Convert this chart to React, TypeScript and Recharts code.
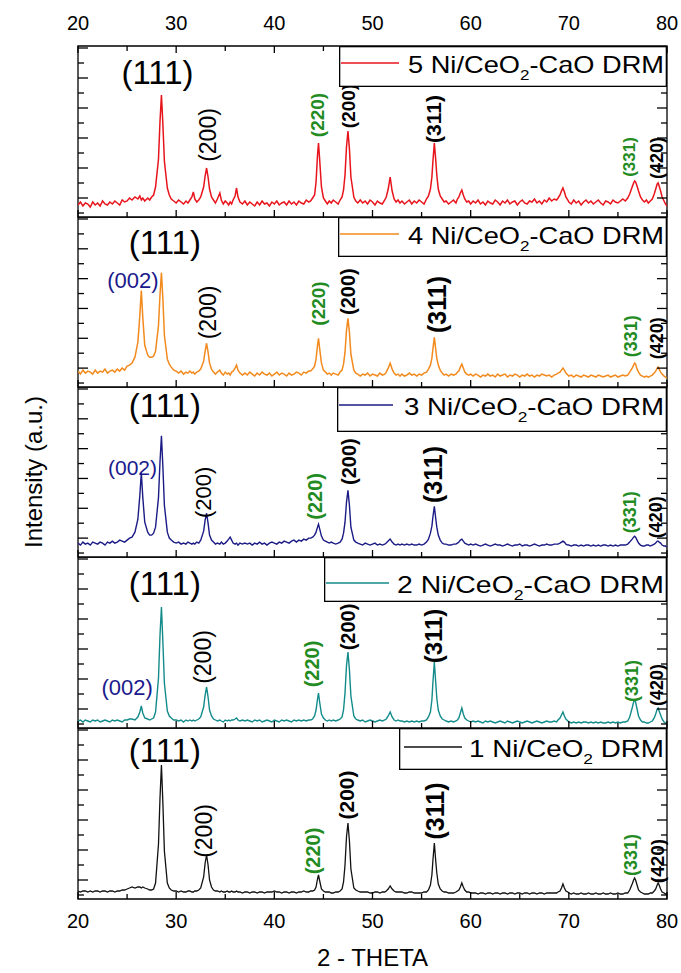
import React from 'react';
import { LineChart, Line, XAxis, YAxis, ReferenceArea, ReferenceDot, Legend } from 'recharts';

// ---------- data: 2-theta grid (degrees) ----------
const TWO_THETA = [
  20.0, 20.25, 20.5, 20.75, 21.0, 21.25, 21.5, 21.75, 22.0, 22.25, 22.5, 22.75, 23.0, 23.25, 23.5, 23.75, 24.0, 24.25, 24.5, 24.75,
  25.0, 25.25, 25.5, 25.8, 26.1, 26.3, 26.45, 26.6, 26.8, 27.1, 27.3, 27.5, 27.7, 27.9, 28.2, 28.35, 28.5, 28.65, 28.8, 29.1, 29.3, 29.5, 29.75,
  30.0, 30.25, 30.5, 30.75, 31.0, 31.2, 31.4, 31.6, 31.75, 31.9, 32.1, 32.3, 32.5, 32.8, 32.95, 33.1, 33.25, 33.4, 33.6, 33.8, 34.0, 34.2, 34.45, 34.6, 34.8, 35.0, 35.2, 35.35, 35.5, 35.65, 35.8, 36.0, 36.15, 36.3, 36.5, 36.75,
  37.0, 37.25, 37.5, 37.75, 38.0, 38.25, 38.5, 38.75, 39.0, 39.25, 39.5, 39.75, 40.0, 40.25, 40.5, 40.75, 41.0, 41.25, 41.5, 41.75, 42.0, 42.25, 42.5, 42.75, 43.0, 43.25, 43.5,
  43.7, 43.9, 44.1, 44.25, 44.4, 44.5, 44.6, 44.8, 45.0, 45.2, 45.4, 45.6, 45.8, 46.0, 46.25, 46.5, 46.7, 46.9, 47.05, 47.2, 47.35, 47.5, 47.65, 47.8, 48.1, 48.3,
  48.5, 48.75, 49.0, 49.25, 49.5, 49.75, 50.0, 50.25, 50.5, 50.75, 51.0, 51.25, 51.4, 51.6, 51.8, 52.0, 52.2, 52.4, 52.6, 52.8,
  53.0, 53.25, 53.5, 53.75, 54.0, 54.25, 54.5, 54.75, 55.0, 55.25, 55.5, 55.7, 55.9, 56.05, 56.15, 56.3, 56.45, 56.55, 56.7, 56.9, 57.1, 57.3, 57.5, 57.75,
  58.0, 58.25, 58.5, 58.65, 58.8, 58.95, 59.1, 59.25, 59.4, 59.6, 59.8, 60.0,
  60.25, 60.5, 60.75, 61.0, 61.25, 61.5, 61.75, 62.0, 62.25, 62.5, 62.75, 63.0, 63.25, 63.5, 63.75, 64.0, 64.25, 64.5, 64.75, 65.0, 65.25, 65.5, 65.75, 66.0, 66.25, 66.5, 66.75, 67.0, 67.25, 67.5, 67.75, 68.0, 68.25, 68.5, 68.75,
  68.9, 69.1, 69.25, 69.4, 69.55, 69.7, 69.9,
  70.0, 70.25, 70.5, 70.75, 71.0, 71.25, 71.5, 71.75, 72.0, 72.25, 72.5, 72.75, 73.0, 73.25, 73.5, 73.75, 74.0, 74.25, 74.5, 74.75, 75.0, 75.25, 75.5, 75.75,
  76.0, 76.2, 76.45, 76.6, 76.7, 76.8, 76.95, 77.1, 77.3, 77.5, 77.7, 77.9, 78.1, 78.3, 78.5, 78.7, 78.85, 79.0, 79.1, 79.2, 79.35, 79.5, 79.7, 79.85, 80.0,
];

// intensities (a.u.), one value per 2-theta point, same row layout as TWO_THETA
const NI5_CEO2_CAO = [
  12, 15, 11, 14, 13, 10, 15, 12, 14, 11, 16, 13, 12, 15, 13, 16, 14, 12, 17, 15,
  16, 19, 17, 20, 18, 21, 17, 19, 16, 19, 17, 20, 22, 30, 58, 95, 122, 92, 56, 29, 22, 18, 16,
  14, 17, 15, 13, 16, 14, 17, 20, 25, 18, 15, 17, 20, 30, 41, 49, 40, 28, 20, 17, 14, 18, 24, 17, 13, 16, 14, 12, 15, 13, 17, 21, 29, 20, 15, 13,
  16, 12, 15, 13, 11, 15, 12, 16, 13, 14, 11, 15, 13, 16, 12, 14, 15, 12, 16, 13, 15, 12, 16, 14, 13, 17, 15,
  16, 19, 22, 35, 62, 74, 60, 30, 19, 16, 13, 16, 14, 17, 15, 13, 17, 20, 27, 42, 70, 86, 68, 40, 20, 16,
  14, 17, 14, 16, 13, 17, 15, 12, 16, 14, 13, 17, 20, 28, 40, 26, 18, 15, 17, 14,
  16, 13, 15, 17, 13, 16, 14, 17, 15, 13, 18, 21, 28, 40, 55, 74, 56, 42, 28, 21, 18, 15, 16, 13,
  15, 17, 14, 18, 20, 24, 27, 22, 18, 15, 16, 13,
  16, 14, 17, 13, 15, 12, 16, 14, 13, 17, 15, 12, 16, 14, 17, 13, 15, 16, 12, 15, 17, 14, 13, 16, 15, 18, 14, 16, 13, 17, 15, 19, 16, 18, 17,
  19, 22, 26, 29, 25, 20, 17,
  15, 13, 17, 14, 16, 12, 15, 17, 14, 16, 13, 15, 17, 14, 12, 16, 15, 13, 17, 15, 14, 16, 18, 16,
  19, 23, 30, 34, 36, 35, 31, 26, 20, 17, 15, 17, 14, 16, 18, 23, 28, 33, 34, 31, 26, 20, 16, 13, 11,
];

const NI4_CEO2_CAO = [
  16, 13, 17, 14, 16, 15, 13, 17, 14, 16, 15, 18, 14, 16, 17, 15, 18, 16, 19, 17,
  21, 22, 24, 30, 45, 72, 97, 70, 42, 32, 30, 30, 31, 36, 62, 92, 115, 88, 52, 28, 23, 20, 17,
  16, 14, 16, 13, 15, 14, 16, 14, 15, 13, 15, 16, 18, 26, 36, 44, 35, 24, 18, 15, 13, 15, 17, 14, 12, 15, 13, 14, 12, 15, 16, 19, 22, 17, 14, 12,
  14, 12, 15, 13, 11, 14, 12, 15, 13, 12, 14, 11, 13, 15, 12, 14, 13, 11, 14, 12, 13, 15, 14, 12, 15, 14, 16,
  16, 18, 21, 28, 42, 49, 40, 24, 17, 15, 13, 14, 12, 14, 13, 12, 15, 17, 23, 35, 57, 69, 55, 33, 17, 14,
  13, 11, 13, 12, 14, 11, 13, 12, 11, 14, 12, 13, 15, 19, 24, 18, 14, 12, 13, 11,
  13, 11, 12, 14, 12, 13, 11, 13, 12, 14, 15, 18, 22, 29, 38, 50, 37, 29, 22, 17, 14, 12, 13, 11,
  13, 12, 13, 15, 16, 20, 23, 19, 15, 13, 12, 13,
  11, 13, 12, 10, 12, 11, 13, 11, 12, 10, 13, 11, 12, 13, 10, 12, 11, 13, 12, 10, 12, 11, 13, 11, 12, 10, 12, 11, 13, 12, 11, 12, 10, 12, 13,
  14, 15, 17, 19, 17, 14, 12,
  11, 12, 10, 12, 11, 10, 12, 11, 10, 12, 11, 10, 12, 11, 10, 11, 12, 10, 11, 12, 10, 11, 12, 11,
  12, 15, 19, 22, 24, 23, 18, 15, 12, 11, 10, 11, 10, 11, 12, 14, 16, 19, 20, 18, 15, 13, 11, 10, 9,
];

const NI3_CEO2_CAO = [
  14, 12, 15, 13, 14, 12, 15, 14, 13, 15, 14, 12, 15, 14, 16, 14, 15, 17, 16, 15,
  17, 19, 20, 25, 38, 62, 85, 60, 35, 25, 22, 22, 24, 30, 60, 95, 122, 90, 52, 25, 19, 17, 15,
  14, 15, 13, 14, 13, 15, 14, 13, 14, 13, 15, 14, 17, 26, 37, 44, 34, 22, 17, 15, 13, 14, 13, 15, 13, 14, 16, 18, 20, 17, 14, 13, 14, 12, 14, 13,
  14, 13, 14, 12, 14, 13, 15, 13, 14, 12, 14, 15, 14, 13, 15, 14, 16, 15, 14, 16, 17, 15, 17, 16, 18, 17, 19,
  19, 20, 22, 25, 30, 33, 29, 21, 17, 16, 15, 14, 15, 14, 13, 14, 15, 18, 24, 35, 55, 67, 52, 30, 17, 15,
  14, 13, 12, 14, 13, 12, 13, 14, 12, 13, 12, 13, 14, 16, 18, 15, 13, 12, 13, 12,
  13, 12, 13, 12, 13, 12, 12, 13, 12, 13, 15, 18, 24, 31, 40, 51, 38, 30, 22, 17, 14, 13, 13, 12,
  12, 13, 13, 14, 15, 17, 18, 16, 14, 13, 12, 13,
  12, 13, 12, 11, 12, 13, 12, 11, 12, 13, 12, 12, 11, 12, 13, 12, 11, 12, 12, 13, 11, 12, 12, 11, 12, 13, 12, 11, 12, 12, 13, 12, 12, 13, 13,
  13, 14, 15, 16, 15, 13, 12,
  12, 11, 12, 12, 11, 12, 11, 12, 12, 11, 12, 11, 12, 11, 12, 12, 11, 12, 11, 12, 11, 12, 12, 12,
  13, 15, 18, 20, 21, 20, 17, 14, 12, 11, 11, 12, 12, 11, 12, 13, 14, 16, 16, 15, 14, 12, 11, 11, 10,
];

const NI2_CEO2_CAO = [
  7, 8, 6, 8, 7, 6, 8, 7, 8, 6, 7, 8, 7, 6, 8, 7, 8, 7, 6, 8,
  8, 9, 9, 8, 11, 16, 22, 15, 10, 9, 8, 9, 10, 16, 50, 92, 121, 85, 45, 17, 12, 10, 8,
  8, 7, 8, 6, 8, 7, 8, 7, 8, 7, 8, 9, 11, 21, 33, 41, 31, 18, 12, 9, 8, 7, 8, 7, 6, 8, 7, 8, 7, 8, 8, 9, 10, 8, 7, 8,
  7, 8, 7, 6, 8, 7, 8, 6, 7, 8, 7, 6, 8, 7, 6, 8, 7, 8, 7, 6, 8, 7, 8, 7, 8, 7, 8,
  8, 9, 12, 18, 29, 35, 27, 14, 10, 8, 7, 8, 7, 8, 7, 8, 9, 11, 18, 35, 62, 76, 58, 32, 12, 9,
  8, 7, 8, 6, 7, 8, 7, 6, 7, 8, 7, 8, 9, 12, 16, 11, 8, 7, 8, 7,
  7, 6, 7, 6, 7, 6, 7, 6, 7, 7, 8, 11, 16, 28, 45, 66, 44, 30, 18, 12, 9, 8, 7, 6,
  7, 6, 7, 8, 10, 15, 20, 14, 10, 8, 7, 6,
  7, 6, 7, 6, 5, 7, 6, 7, 6, 5, 6, 7, 6, 5, 7, 6, 5, 6, 7, 6, 5, 6, 7, 6, 5, 6, 7, 6, 5, 6, 7, 6, 6, 7, 6,
  8, 10, 13, 16, 12, 9, 7,
  6, 5, 6, 5, 6, 5, 6, 6, 5, 6, 5, 6, 5, 6, 5, 5, 6, 5, 6, 5, 6, 5, 6, 6,
  7, 11, 20, 26, 28, 26, 19, 12, 8, 6, 6, 5, 5, 6, 7, 10, 14, 19, 20, 17, 13, 9, 6, 5, 5,
];

const NI1_CEO2 = [
  8, 7, 8, 8, 7, 8, 7, 8, 8, 7, 8, 8, 7, 8, 8, 7, 8, 8, 9, 9,
  10, 11, 12, 11, 12, 12, 11, 12, 11, 10, 9, 9, 10, 16, 55, 100, 134, 95, 48, 16, 11, 9, 8,
  8, 7, 8, 7, 7, 8, 8, 7, 7, 8, 8, 9, 11, 22, 36, 44, 34, 19, 12, 9, 8, 8, 7, 8, 7, 7, 8, 7, 7, 8, 7, 7, 8, 7, 7, 6,
  7, 7, 6, 7, 7, 6, 7, 7, 6, 7, 7, 7, 8, 7, 7, 6, 7, 7, 6, 7, 7, 6, 7, 7, 8, 7, 7,
  8, 8, 9, 12, 20, 24, 19, 10, 8, 7, 7, 7, 6, 6, 7, 7, 8, 10, 17, 34, 62, 76, 58, 30, 11, 9,
  8, 7, 7, 7, 7, 6, 6, 7, 7, 6, 7, 7, 8, 10, 13, 10, 8, 7, 7, 7,
  7, 6, 6, 7, 7, 6, 6, 6, 6, 7, 7, 9, 14, 24, 38, 56, 37, 26, 15, 10, 8, 7, 7, 6,
  6, 6, 7, 8, 9, 12, 16, 12, 9, 7, 7, 6,
  6, 6, 5, 6, 6, 5, 6, 6, 5, 6, 6, 5, 6, 6, 5, 6, 6, 5, 6, 6, 5, 6, 6, 5, 6, 6, 5, 6, 6, 5, 6, 6, 6, 6, 6,
  7, 8, 11, 15, 11, 8, 7,
  6, 5, 6, 5, 5, 6, 5, 5, 6, 5, 5, 6, 5, 5, 6, 5, 5, 6, 5, 5, 6, 5, 5, 6,
  6, 9, 15, 19, 21, 19, 14, 9, 7, 6, 5, 5, 5, 6, 6, 8, 10, 14, 16, 14, 10, 7, 6, 5, 5,
];

const X_TICKS = [20, 25, 30, 35, 40, 45, 50, 55, 60, 65, 70, 75, 80];
const Y_TICKS = [4, 19, 34, 49, 64, 79, 94, 109, 124, 139, 154, 169];
const Y_MAJOR = [19, 49, 79, 109, 139, 169];

// ---------- styling / layout ----------
const FONT = '"Liberation Sans", Arial, Helvetica, sans-serif';
const W = 681;
const ML = 78;
const MR = 14;
const PLOT_W = W - ML - MR;
const GREEN = '#228b22';
const NAVY_TXT = '#1a1a8c';

type Peak = { text: string; t: number; I: number; kind: 'big' | 'rot' | 'bold' | 'ni' | 'hkl002'; size: number };

const PANELS: any[] = [
  {
    name: '5 Ni/CeO2-CaO DRM', pre: '5 Ni/CeO', post: '-CaO DRM', values: NI5_CEO2_CAO, color: '#e8141c', sw: 1.5,
    top: 46, plotH: 171, extraTop: 46, extraBottom: 0, topTicks: true, topLabels: true, bottomLabels: false,
    legend: { x: 339, y: 46, w: 328, h: 41, lineX1: 341, lineX2: 399, lineY: 63, textX: 408 },
    peaks: [
      { text: '(111)', t: 28.1, I: 145, kind: 'big', size: 33 },
      { text: '(200)', t: 33.2, I: 82, kind: 'rot', size: 23 },
      { text: '(220)', t: 44.4, I: 102, kind: 'ni', size: 19 },
      { text: '(200)', t: 47.6, I: 111, kind: 'bold', size: 19 },
      { text: '(311)', t: 56.2, I: 98, kind: 'bold', size: 21 },
      { text: '(331)', t: 76.2, I: 60, kind: 'ni', size: 17 },
      { text: '(420)', t: 79.0, I: 59, kind: 'bold', size: 18 },
    ] as Peak[],
  },
  {
    name: '4 Ni/CeO2-CaO DRM', pre: '4 Ni/CeO', post: '-CaO DRM', values: NI4_CEO2_CAO, color: '#f28a1e', sw: 1.5,
    top: 217, plotH: 170, extraTop: 0, extraBottom: 0, topTicks: false, topLabels: false, bottomLabels: false,
    legend: { x: 338, y: 217, w: 329, h: 40, lineX1: 340, lineX2: 399, lineY: 234, textX: 408 },
    peaks: [
      { text: '(111)', t: 28.85, I: 145, kind: 'big', size: 33 },
      { text: '(002)', t: 25.6, I: 107, kind: 'hkl002', size: 22 },
      { text: '(200)', t: 33.2, I: 75, kind: 'rot', size: 23 },
      { text: '(220)', t: 44.5, I: 84, kind: 'ni', size: 19 },
      { text: '(200)', t: 47.5, I: 96, kind: 'bold', size: 20 },
      { text: '(311)', t: 56.6, I: 83, kind: 'bold', size: 25 },
      { text: '(331)', t: 76.3, I: 51, kind: 'ni', size: 18 },
      { text: '(420)', t: 79.0, I: 49, kind: 'bold', size: 18 },
    ] as Peak[],
  },
  {
    name: '3 Ni/CeO2-CaO DRM', pre: '3 Ni/CeO', post: '-CaO DRM', values: NI3_CEO2_CAO, color: '#1b1b86', sw: 1.4,
    top: 387, plotH: 170, extraTop: 0, extraBottom: 0, topTicks: false, topLabels: false, bottomLabels: false, yTitle: true,
    legend: { x: 337, y: 387, w: 330, h: 45, lineX1: 339, lineX2: 393, lineY: 405, textX: 404 },
    peaks: [
      { text: '(111)', t: 28.85, I: 152, kind: 'big', size: 33 },
      { text: '(002)', t: 25.55, I: 90, kind: 'hkl002', size: 21 },
      { text: '(200)', t: 32.8, I: 65, kind: 'rot', size: 22 },
      { text: '(220)', t: 44.1, I: 61, kind: 'ni', size: 20 },
      { text: '(200)', t: 47.6, I: 96, kind: 'bold', size: 20 },
      { text: '(311)', t: 56.2, I: 83, kind: 'bold', size: 25 },
      { text: '(331)', t: 76.2, I: 45, kind: 'ni', size: 18 },
      { text: '(420)', t: 78.9, I: 40, kind: 'bold', size: 18 },
    ] as Peak[],
  },
  {
    name: '2 Ni/CeO2-CaO DRM', pre: '2 Ni/CeO', post: '-CaO DRM', values: NI2_CEO2_CAO, color: '#138b8b', sw: 1.4,
    top: 557, plotH: 171, extraTop: 0, extraBottom: 0, topTicks: false, topLabels: false, bottomLabels: false,
    legend: { x: 324, y: 557, w: 343, h: 45, lineX1: 326, lineX2: 389, lineY: 583, textX: 397 },
    peaks: [
      { text: '(111)', t: 28.85, I: 145, kind: 'big', size: 33 },
      { text: '(002)', t: 25.0, I: 41, kind: 'hkl002', size: 22 },
      { text: '(200)', t: 32.7, I: 71, kind: 'rot', size: 23 },
      { text: '(220)', t: 43.85, I: 64, kind: 'ni', size: 20 },
      { text: '(200)', t: 47.5, I: 101, kind: 'bold', size: 20 },
      { text: '(311)', t: 56.2, I: 92, kind: 'bold', size: 24 },
      { text: '(331)', t: 76.4, I: 47, kind: 'ni', size: 18 },
      { text: '(420)', t: 79.0, I: 43, kind: 'bold', size: 18 },
    ] as Peak[],
  },
  {
    name: '1 Ni/CeO2 DRM', pre: '1 Ni/CeO', post: ' DRM', values: NI1_CEO2, color: '#111111', sw: 1.3,
    top: 728, plotH: 171, extraTop: 0, extraBottom: 73, topTicks: false, topLabels: false, bottomLabels: true, xTitle: true,
    legend: { x: 399, y: 728, w: 268, h: 42, lineX1: 404, lineX2: 462, lineY: 747, textX: 469 },
    peaks: [
      { text: '(111)', t: 28.85, I: 149, kind: 'big', size: 33 },
      { text: '(200)', t: 32.8, I: 68, kind: 'rot', size: 23 },
      { text: '(220)', t: 43.95, I: 48, kind: 'ni', size: 20 },
      { text: '(200)', t: 47.4, I: 104, kind: 'bold', size: 21 },
      { text: '(311)', t: 56.35, I: 88, kind: 'bold', size: 25 },
      { text: '(331)', t: 76.3, I: 44, kind: 'ni', size: 18 },
      { text: '(420)', t: 79.0, I: 38, kind: 'bold', size: 19 },
    ] as Peak[],
  },
];

function makeXTick(plotH: number, topTicks: boolean, topLabels: boolean, bottomLabels: boolean) {
  return (props: any) => {
    const { x, y, payload } = props;
    const v = payload.value;
    const major = v % 10 === 0;
    const len = major ? 7 : 5;
    const yTop = y - plotH;
    return (
      <g>
        <line x1={x} x2={x} y1={y} y2={y - len} stroke="#000" strokeWidth={1.3} />
        {topTicks && <line x1={x} x2={x} y1={yTop} y2={yTop + len} stroke="#000" strokeWidth={1.3} />}
        {topLabels && major && (
          <text x={x} y={yTop - 16} textAnchor="middle" fontSize={20} fontFamily={FONT} fill="#000">{v}</text>
        )}
        {bottomLabels && major && (
          <text x={x} y={y + 29} textAnchor="middle" fontSize={20} fontFamily={FONT} fill="#000">{v}</text>
        )}
      </g>
    );
  };
}

const YTick = (props: any) => {
  const { x, y, payload } = props;
  const len = Y_MAJOR.includes(payload.value) ? 10 : 6;
  return (
    <g>
      <line x1={x} x2={x + len} y1={y} y2={y} stroke="#000" strokeWidth={1.3} />
      <line x1={x + PLOT_W} x2={x + PLOT_W - len} y1={y} y2={y} stroke="#000" strokeWidth={1.3} />
    </g>
  );
};

function peakShape(pk: Peak) {
  return (sp: any) => {
    const cx = sp.cx;
    const cy = sp.cy;
    if (pk.kind === 'big' || pk.kind === 'hkl002') {
      return (
        <text x={cx} y={cy} textAnchor="middle" dominantBaseline="central" fontSize={pk.size}
          fontFamily={FONT} fill={pk.kind === 'big' ? '#000' : NAVY_TXT}>{pk.text}</text>
      );
    }
    const bold = pk.kind === 'bold' || pk.kind === 'ni';
    return (
      <text x={cx} y={cy} transform={`rotate(-90 ${cx} ${cy})`} textAnchor="middle" dominantBaseline="central"
        fontSize={pk.size} fontWeight={bold ? 'bold' : 'normal'} fontFamily={FONT}
        fill={pk.kind === 'ni' ? GREEN : '#000'}>{pk.text}</text>
    );
  };
}

function makeLegend(p: any) {
  const L = p.legend;
  return (props: any) => {
    const entry = props && props.payload && props.payload[0];
    const color = (entry && entry.color) || p.color;
    const label = (entry && entry.value) || p.name;
    return (
      <svg width={L.w} height={L.h} style={{ display: 'block' }} aria-label={label}>
        <rect x={0.65} y={0.65} width={L.w - 1.3} height={L.h - 1.3} fill="#fff" stroke="#000" strokeWidth={1.3} />
        <line x1={L.lineX1 - L.x} x2={L.lineX2 - L.x} y1={L.lineY - L.y} y2={L.lineY - L.y} stroke={color} strokeWidth={1.6} />
        <text x={L.textX - L.x} y={L.lineY - L.y + 10} fontSize={24} fontFamily={FONT} fill="#000"
          textLength={664 - L.textX} lengthAdjust="spacingAndGlyphs">
          {p.pre}
          <tspan dy={7} fontSize={15}>2</tspan>
          <tspan dy={-7}>{p.post}</tspan>
        </text>
      </svg>
    );
  };
}

const AXIS_PX = 1; // recharts needs a non-zero axis band to draw ticks

function Panel({ p }: { p: any }) {
  const chartTop = p.top - p.extraTop;
  const chartH = p.extraTop + p.plotH + AXIS_PX + p.extraBottom;
  const data = TWO_THETA.map((t, i) => ({ t, v: p.values[i] }));
  const L = p.legend;
  return (
    <div style={{ position: 'absolute', left: 0, top: chartTop, width: W, height: chartH }}>
      <LineChart width={W} height={chartH} data={data}
        margin={{ top: p.extraTop, right: MR, bottom: p.extraBottom, left: ML - AXIS_PX }}>
        <XAxis
          dataKey="t" type="number" domain={[20, 80]} ticks={X_TICKS} interval={0} height={AXIS_PX}
          tickSize={0} tickMargin={0} axisLine={false} tickLine={false} allowDataOverflow
          tick={makeXTick(p.plotH, p.topTicks, p.topLabels, p.bottomLabels)}
          label={p.xTitle ? {
            content: (lp: any) => {
              const vb = lp.viewBox || {};
              return (
                <text x={vb.x + vb.width / 2} y={vb.y + 67} textAnchor="middle" fontSize={24} fontFamily={FONT} fill="#000">2 - THETA</text>
              );
            },
          } : undefined}
        />
        <YAxis
          type="number" domain={[0, 171]} ticks={Y_TICKS} interval={0} width={AXIS_PX}
          tickSize={0} tickMargin={0} axisLine={false} tickLine={false} allowDataOverflow
          tick={YTick}
          label={p.yTitle ? {
            content: (lp: any) => {
              const vb = lp.viewBox || {};
              const cy = vb.y + vb.height / 2;
              return (
                <text x={33} y={cy} transform={`rotate(-90 33 ${cy})`} textAnchor="middle" dominantBaseline="central"
                  fontSize={24} fontFamily={FONT} fill="#000">Intensity (a.u.)</text>
              );
            },
          } : undefined}
        />
        <ReferenceArea x1={20} x2={80} y1={0} y2={171} fill="none" fillOpacity={0} stroke="#000" strokeWidth={1.3} ifOverflow="visible" />
        <Line dataKey="v" name={p.name} type="linear" stroke={p.color} strokeWidth={p.sw} dot={false} activeDot={false} isAnimationActive={false} />
        {p.peaks.map((pk: Peak, i: number) => (
          <ReferenceDot key={i} x={pk.t} y={pk.I} r={1} ifOverflow="visible" shape={peakShape(pk)} />
        ))}
        <Legend
          layout="horizontal" verticalAlign="middle" align="center"
          content={makeLegend(p)}
          wrapperStyle={{ left: L.x, top: L.y - chartTop, width: L.w, height: L.h, margin: 0, padding: 0 }}
        />
      </LineChart>
    </div>
  );
}

export default function App() {
  return (
    <div style={{ position: 'absolute', left: 0, top: 0, width: W, height: 973, background: '#fff', fontFamily: FONT }}>
      {PANELS.map((p, i) => <Panel key={i} p={p} />)}
    </div>
  );
}
